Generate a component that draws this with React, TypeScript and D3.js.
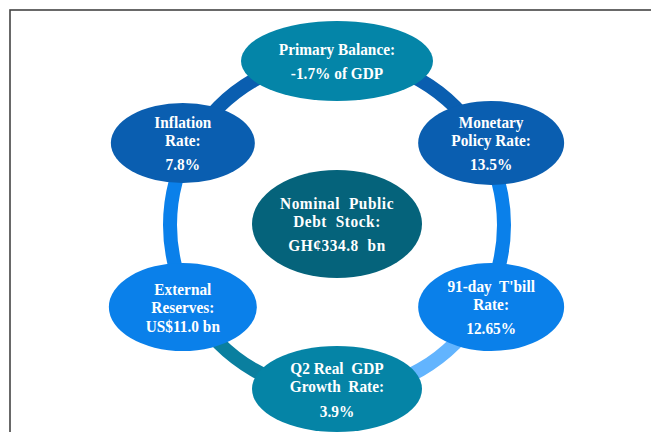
import React from "react";
import * as d3 from "d3";

// Indicators around the ring, clockwise from the top
const nodeTitles = [
  ["Primary Balance:"],
  ["Monetary", "Policy Rate:"],
  ["91-day  T'bill", "Rate:"],
  ["Q2 Real  GDP", "Growth  Rate:"],
  ["External", "Reserves:"],
  ["Inflation", "Rate:"],
];
const nodeValues = ["-1.7% of GDP", "13.5%", "12.65%", "3.9%", "US$11.0 bn", "7.8%"];

// Centre bubble
const centerTitles = ["Nominal  Public", "Debt  Stock:"];
const centerValue = "GH\u00a2334.8  bn";

// styling
const nodeFill = ["#0485A8", "#0A5EB0", "#0A80EA", "#0584A6", "#0A80EA", "#0A5EB0"];
const ringFill = ["#0A5EB0", "#0A80EA", "#62B4FE", "#0A7F9F", "#0A80EA", "#0A5EB0"];
const nodeRx = [96, 73, 73, 85, 74, 72];
const nodeRy = [40, 42, 44, 43, 44, 40];
const valueGap = [24, 24, 24, 25, 19, 24];

const width = 651;
const height = 432;
const cx = 337;
const cy = 225;
const ringR = 167;

const App = () => {
  const angle = d3.scaleLinear().domain([0, nodeTitles.length]).range([0, 2 * Math.PI]);
  const arc = d3
    .arc<number>()
    .innerRadius(ringR - 7)
    .outerRadius(ringR + 7)
    .startAngle((i) => angle(i))
    .endAngle((i) => angle(i + 1));

  // node centres sit on a slightly flattened ellipse
  const pos = (i: number) => {
    const a = angle(i) - Math.PI / 2;
    return [cx + 178 * Math.cos(a), cy + 164 * Math.sin(a)];
  };

  // Times-like bold, a bit narrow as in the source
  const textLines = (titles: string[], value: string, x: number, y: number, gap: number, ls = 0) => {
    const span = 18 * (titles.length - 1) + gap;
    const start = y + 6 - span / 2;
    const lines = [...titles.map((t, i) => ({ t, y: start + 18 * i })), { t: value, y: start + 18 * (titles.length - 1) + gap }];
    return lines.map((l, i) => (
      <text
        key={i}
        transform={`translate(${x},${l.y}) scale(0.93,1)`}
        textAnchor="middle"
        fill="#fff"
        fontFamily="'Liberation Serif', 'Times New Roman', serif"
        fontWeight="bold"
        fontSize={16.5}
        letterSpacing={ls}
        style={{ whiteSpace: "pre" }}
      >
        {l.t}
      </text>
    ));
  };

  return (
    <svg width={width} height={height} style={{ position: "absolute", left: 0, top: 0, background: "#fff" }}>
      {/* frame */}
      <rect x={10} y={10} width={700} height={500} fill="none" stroke="#444" strokeWidth={1.6} />

      {/* ring */}
      <g transform={`translate(${cx},${cy})`}>
        {d3.range(nodeTitles.length).map((i) => (
          <path key={i} d={arc(i) || ""} fill={ringFill[i]} />
        ))}
      </g>

      {/* centre */}
      <ellipse cx={cx} cy={224} rx={85} ry={54} fill="#05637B" />
      {textLines(centerTitles, centerValue, cx, 224, 24, 0.6)}

      {/* nodes */}
      {nodeTitles.map((titles, i) => {
        const [x, y] = pos(i);
        return (
          <g key={i}>
            <ellipse cx={x} cy={y} rx={nodeRx[i]} ry={nodeRy[i]} fill={nodeFill[i]} />
            {textLines(titles, nodeValues[i], x, y, valueGap[i])}
          </g>
        );
      })}
    </svg>
  );
};

export default App;
